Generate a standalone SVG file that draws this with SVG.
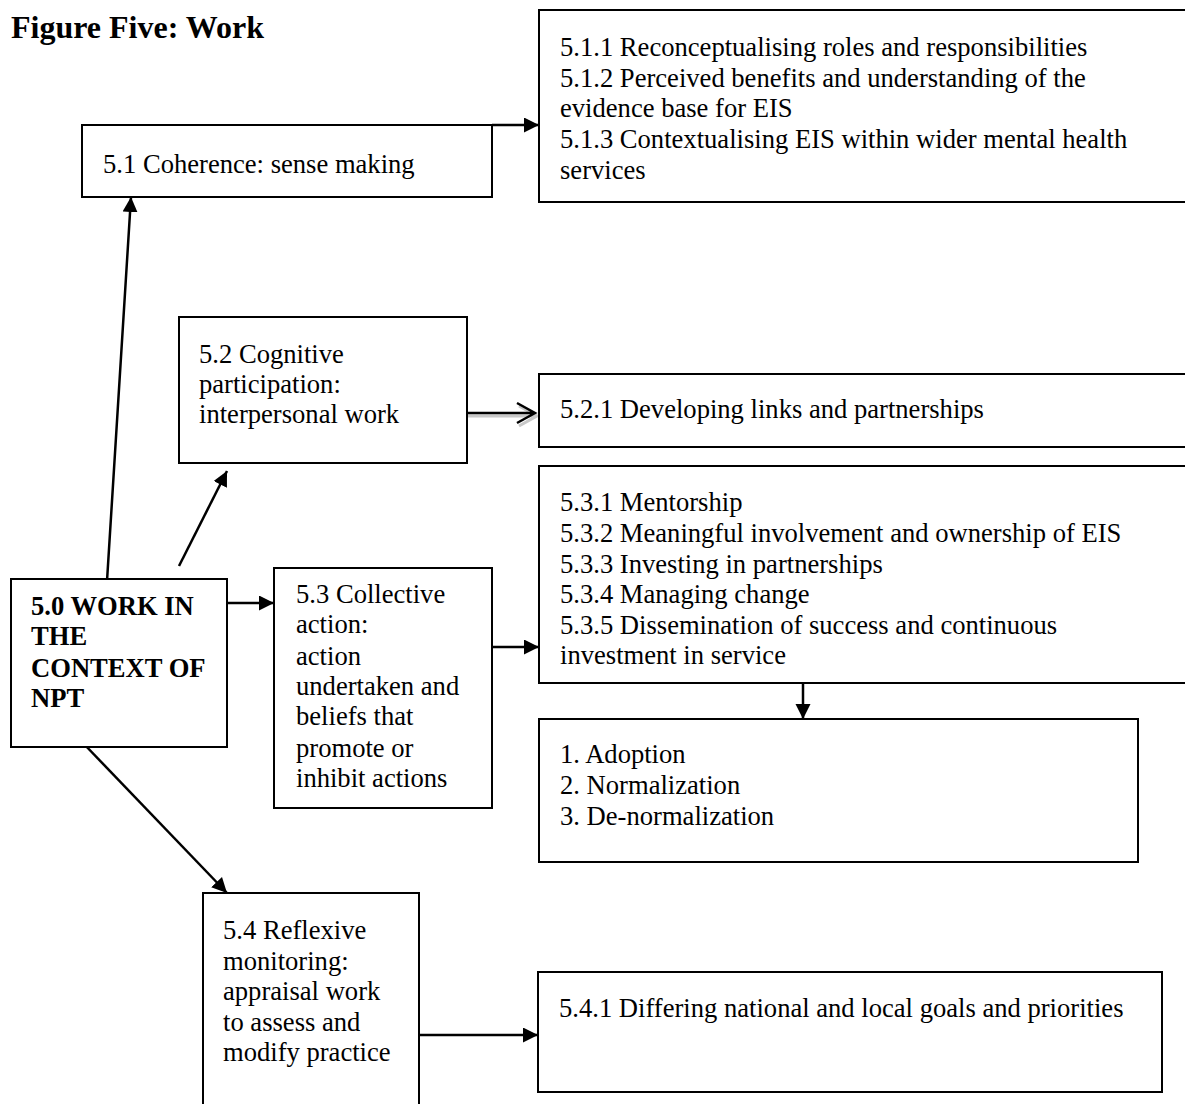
<svg xmlns="http://www.w3.org/2000/svg" width="1185" height="1104" viewBox="0 0 1185 1104">
  <style>
    .box { fill: #ffffff; stroke: #000000; stroke-width: 2; }
    .t { font-family: "Liberation Serif", "Times New Roman", serif; font-size: 26.6px; fill: #000000; }
    .b { font-weight: bold; }
    .title { font-family: "Liberation Serif", "Times New Roman", serif; font-size: 32px; font-weight: bold; fill: #000000; }
    .conn { stroke: #000000; stroke-width: 2.5; fill: none; }
  </style>
  <defs>
    <marker id="head" markerUnits="userSpaceOnUse" markerWidth="16" markerHeight="16" refX="15" refY="7.5" orient="auto">
      <path d="M0,0 L15,7.5 L0,15 z" fill="#000000"/>
    </marker>
  </defs>

  <rect width="1185" height="1104" fill="#ffffff"/>

  <text class="title" x="11" y="38">Figure Five: Work</text>

  <!-- connectors -->
  <g id="connectors">
    <line class="conn" x1="492" y1="125" x2="539" y2="125" marker-end="url(#head)"/>
    <line class="conn" x1="107" y1="581" x2="131" y2="197" marker-end="url(#head)"/>
    <line class="conn" x1="179" y1="566" x2="227" y2="471" marker-end="url(#head)"/>
    <line class="conn" x1="227" y1="603" x2="274" y2="603" marker-end="url(#head)"/>
    <line class="conn" x1="492" y1="647" x2="539" y2="647" marker-end="url(#head)"/>
    <line class="conn" x1="803" y1="673" x2="803" y2="719" marker-end="url(#head)"/>
    <line class="conn" x1="83" y1="743" x2="227" y2="893" marker-end="url(#head)"/>
    <line class="conn" x1="419" y1="1035" x2="538" y2="1035" marker-end="url(#head)"/>
    <!-- open-headed arrow with soft shadow -->
    <g id="arrow-5-2">
      <path d="M468,416 L537,416 M519,406 L537,416 L519,426" stroke="#c8c8c8" stroke-width="3" fill="none"/>
      <path d="M467,413 L535,413 M517,403 L535,413 L517,423" stroke="#000000" stroke-width="2.5" fill="none"/>
    </g>
  </g>

  <g id="n5-1-x">
    <rect class="box" x="539" y="10" width="660" height="192"/>
    <text class="t" x="560" y="56">5.1.1 Reconceptualising roles and responsibilities</text>
    <text class="t" x="560" y="87">5.1.2 Perceived benefits and understanding of the</text>
    <text class="t" x="560" y="117">evidence base for EIS</text>
    <text class="t" x="560" y="148">5.1.3 Contextualising EIS within wider mental health</text>
    <text class="t" x="560" y="179">services</text>
  </g>

  <g id="n5-1">
    <rect class="box" x="82" y="125" width="410" height="72"/>
    <text class="t" x="103" y="173">5.1 Coherence: sense making</text>
  </g>

  <g id="n5-2">
    <rect class="box" x="179" y="317" width="288" height="146"/>
    <text class="t" x="199" y="363">5.2 Cognitive</text>
    <text class="t" x="199" y="393">participation:</text>
    <text class="t" x="199" y="423">interpersonal work</text>
  </g>

  <g id="n5-2-1">
    <rect class="box" x="539" y="374" width="660" height="73"/>
    <text class="t" x="560" y="418">5.2.1 Developing links and partnerships</text>
  </g>

  <g id="n5-3-x">
    <rect class="box" x="539" y="466" width="660" height="217"/>
    <text class="t" x="560" y="511">5.3.1 Mentorship</text>
    <text class="t" x="560" y="542">5.3.2 Meaningful involvement and ownership of EIS</text>
    <text class="t" x="560" y="573">5.3.3 Investing in partnerships</text>
    <text class="t" x="560" y="603">5.3.4 Managing change</text>
    <text class="t" x="560" y="634">5.3.5 Dissemination of success and continuous</text>
    <text class="t" x="560" y="664">investment in service</text>
  </g>

  <g id="n5-0">
    <rect class="box" x="11" y="579" width="216" height="168"/>
    <text class="t b" x="31" y="615">5.0 WORK IN</text>
    <text class="t b" x="31" y="645">THE</text>
    <text class="t b" x="31" y="677">CONTEXT OF</text>
    <text class="t b" x="31" y="707">NPT</text>
  </g>

  <g id="n5-3">
    <rect class="box" x="274" y="568" width="218" height="240"/>
    <text class="t" x="296" y="603">5.3 Collective</text>
    <text class="t" x="296" y="633">action:</text>
    <text class="t" x="296" y="665">action</text>
    <text class="t" x="296" y="695">undertaken and</text>
    <text class="t" x="296" y="725">beliefs that</text>
    <text class="t" x="296" y="757">promote or</text>
    <text class="t" x="296" y="787">inhibit actions</text>
  </g>

  <g id="n-stages">
    <rect class="box" x="539" y="719" width="599" height="143"/>
    <text class="t" x="560" y="763">1. Adoption</text>
    <text class="t" x="560" y="794">2. Normalization</text>
    <text class="t" x="560" y="825">3. De-normalization</text>
  </g>

  <g id="n5-4">
    <rect class="box" x="203" y="893" width="216" height="230"/>
    <text class="t" x="223" y="939">5.4 Reflexive</text>
    <text class="t" x="223" y="970">monitoring:</text>
    <text class="t" x="223" y="1000">appraisal work</text>
    <text class="t" x="223" y="1031">to assess and</text>
    <text class="t" x="223" y="1061">modify practice</text>
  </g>

  <g id="n5-4-1">
    <rect class="box" x="538" y="972" width="624" height="120"/>
    <text class="t" x="559" y="1017">5.4.1 Differing national and local goals and priorities</text>
  </g>
</svg>
